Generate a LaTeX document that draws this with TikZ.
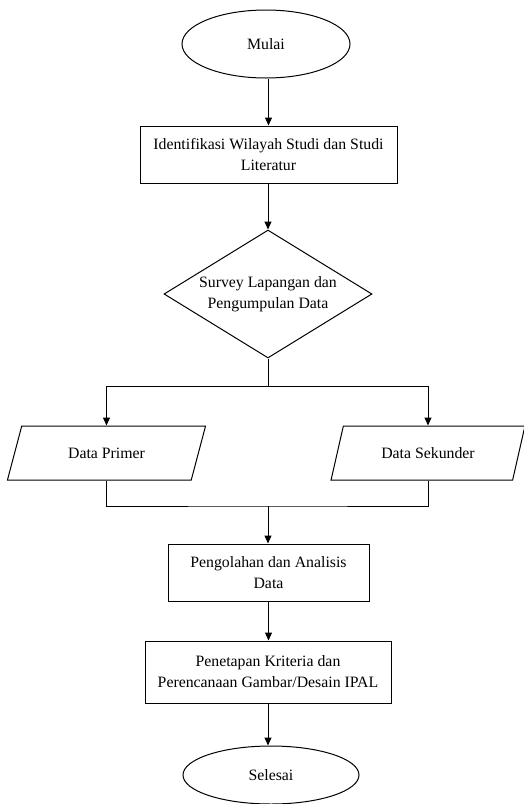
\documentclass[tikz,border=0pt]{standalone}
\usepackage{fontspec}
\setmainfont{Liberation Serif}
\usetikzlibrary{shapes.geometric, arrows.meta, calc}

\begin{document}
\begin{tikzpicture}[x=1pt, y=-1pt, line width=1pt,
        font=\fontsize{15.8}{21}\selectfont,
        kotak/.style={draw, rectangle, align=center, inner sep=0pt},
        elips/.style={draw, ellipse, inner sep=0pt},
        belah/.style={draw, diamond, aspect=1.625, align=center, inner sep=0pt},
        jajar/.style={draw, trapezium, trapezium left angle=58.6, trapezium right angle=121.4,
            trapezium stretches=true, inner sep=0pt},
        panah/.style={-{Triangle[length=8pt,width=7pt]}}]
    \useasboundingbox (0,0) rectangle (523,804);
    % Mulai
    \node[elips, minimum width=168, minimum height=68] (mulai) at (266,44) {Mulai};
    \node[kotak, minimum width=257, minimum height=57] (identifikasi) at (268.5,154.5)
        {Identifikasi Wilayah Studi dan Studi\\Literatur};
    \node[belah, minimum width=208, minimum height=128] (survey) at (268,294)
        {Survey Lapangan dan\\Pengumpulan Data};
    % Data
    \node[jajar, minimum width=199, minimum height=54] (primer) at (106.5,453) {Data Primer};
    \node[jajar, minimum width=194, minimum height=54] (sekunder) at (428,453) {Data Sekunder};
    \node[kotak, minimum width=201, minimum height=57] (olah) at (268.5,572.5)
        {Pengolahan dan Analisis\\Data};
    \node[kotak, minimum width=246, minimum height=62] (tetap) at (268,672)
        {Penetapan Kriteria dan\\Perencanaan Gambar/Desain IPAL};
    \node[elips, minimum width=176, minimum height=58] (selesai) at (271,775) {Selesai};
    % Garis
    \coordinate (cabang) at (268,386);
    \coordinate (gabung) at (268,506);
    \draw[panah] (identifikasi.north |- mulai.south) -- (identifikasi.north);
    \draw[panah] (identifikasi.south) -- (identifikasi.south -| survey.north) -- (survey.north);
    \draw (survey.south) -- (cabang);
    \draw[panah] (cabang) -| (primer);
    \draw[panah] (cabang) -| (sekunder);
    \draw (primer) |- (gabung) -| (sekunder);
    \draw[panah] (gabung) -- (gabung |- olah.north);
    \draw[panah] (olah.south) -- (olah.south |- tetap.north);
    \draw[panah] (tetap.south) -- (tetap.south |- selesai.north);
\end{tikzpicture}
\end{document}
